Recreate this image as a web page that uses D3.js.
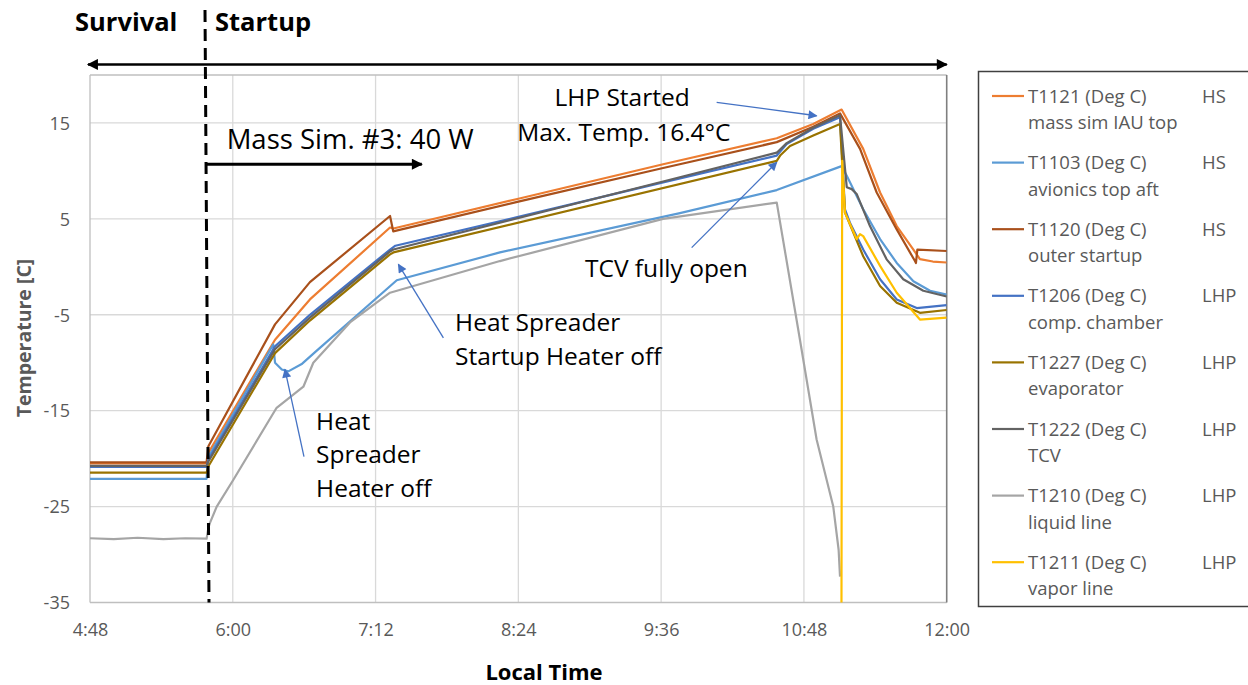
<!DOCTYPE html>
<html><head><meta charset="utf-8">
<script src="https://cdn.jsdelivr.net/npm/d3@7/dist/d3.min.js"></script>
<style>
body{margin:0;background:#fff;}
svg{display:block;font-family:"Open Sans","Noto Sans",sans-serif;}
</style>
</head><body>
<svg id="chart" width="1248" height="685"></svg>
<script>
// ---- data (time = minutes after midnight, temperature in deg C) ----
const xTickValues = [288, 360, 432, 504, 576, 648, 720];
const yTickValues = [-35, -25, -15, -5, 5, 15];
const seriesNames = ["T1121 (Deg C)", "T1103 (Deg C)", "T1120 (Deg C)", "T1206 (Deg C)",
                     "T1227 (Deg C)", "T1222 (Deg C)", "T1210 (Deg C)", "T1211 (Deg C)"];
const seriesDesc = ["mass sim IAU top", "avionics top aft", "outer startup", "comp. chamber",
                    "evaporator", "TCV", "liquid line", "vapor line"];
const seriesGroup = ["HS", "HS", "HS", "LHP", "LHP", "LHP", "LHP", "LHP"];
const seriesColors = ["#ED7D31", "#5B9BD5", "#A9501B", "#4472C4", "#997300", "#636363", "#A5A5A5", "#FFC000"];

const T1121 = [[288,-20.5],[346.8,-20.5],[347.7,-19.4],[381.3,-7.6],[398.9,-3.4],[439.3,4.1],[441,4.0],
  [504,7.1],[577,10.7],[634.3,13.4],[652.7,14.9],[667,16.4],[677.9,12.3],[686.4,7.75],[694.8,4.25],
  [703.2,1.8],[706.5,0.8],[713,0.55],[720,0.45]];
const T1103 = [[288,-22.1],[346.8,-22.1],[347.7,-19.8],[380.4,-8.1],[381.3,-10.0],[384.7,-10.7],[388,-10.9],
  [395,-10.1],[401.5,-8.9],[442.7,-1.4],[494.7,1.5],[585.5,5.6],[634.3,8.0],[667,10.5],[669.6,9.5],
  [677.9,6.0],[686.4,2.9],[694.8,0.4],[703.2,-1.5],[711.6,-2.5],[720,-2.9]];
const T1120 = [[288,-20.4],[346.8,-20.4],[347.7,-18.7],[381.3,-6.0],[398.9,-1.6],[439.3,5.3],[440.9,3.7],
  [504,6.8],[577,10.3],[634.3,13.0],[652.7,14.6],[666.2,16.0],[676.3,12.3],[684.7,7.75],[694.8,3.9],
  [704,0.6],[704.5,0.4],[705.2,1.8],[720,1.65]];
const T1206 = [[288,-20.85],[346.8,-20.85],[347.7,-20.1],[381.3,-8.3],[398.9,-5.0],[439.3,1.8],[442,2.2],
  [504,5.2],[577,8.8],[634.3,11.6],[639.3,12.8],[652.7,14.4],[666.2,15.6],[668.7,6.0],[671.2,4.6],
  [677.9,1.8],[686.4,-1.3],[694.8,-3.4],[704.9,-4.3],[720,-4.0]];
const T1227 = [[288,-21.45],[346.8,-21.45],[347.7,-20.8],[381.3,-9.0],[398.9,-5.6],[439.3,1.3],[441,1.5],
  [634.3,11.05],[636,11.6],[641,12.6],[652.7,13.7],[666.2,14.9],[668.7,5.65],[677.9,1.1],[686.4,-2.0],
  [694.8,-3.75],[706.5,-4.8],[720,-4.5]];
const T1222 = [[288,-20.75],[346.8,-20.75],[347.7,-20.3],[381.3,-8.6],[398.9,-5.3],[439.3,1.6],[441,1.8],
  [577,8.9],[634.3,11.9],[639.3,12.9],[652.7,14.5],[666.2,15.8],[669.6,8.3],[672.1,8.1],[674.6,7.6],
  [681.3,4.25],[689.7,0.78],[698.1,-1.3],[708.2,-2.5],[720,-3.1]];
const T1210 = [[288,-28.3],[300,-28.4],[312,-28.25],[325,-28.4],[336,-28.3],[346.8,-28.35],[347.7,-27.2],
  [348.5,-26.7],[351.9,-25.0],[360.3,-22.2],[382.1,-14.7],[395.6,-12.5],[400.6,-10.0],[419.1,-5.8],
  [439.3,-2.7],[494.7,0.6],[577,5.0],[634.3,6.7],[646,-7.6],[654.4,-18.0],[662.8,-25.0],[665.5,-29.5],
  [666.2,-32.3]];
const T1211 = [[666.9,-40],[667.3,11.05],[668.7,5.65],[674.6,2.9],[676.3,3.4],[677.9,3.2],[686.4,0.1],
  [694.8,-2.7],[706.5,-5.5],[720,-5.3]];
const seriesData = [T1121, T1103, T1120, T1206, T1227, T1222, T1210, T1211];

// event marks (time in minutes, temperature)
const startupTime = 347;
const massSimArrow = [[347, 10.7], [455.3, 10.7]];
const phaseArrow = [[287, 21.1], [720, 21.1]];
const annotations = [
  {lines: ["LHP Started"], at: [556.3, 16.8], anchor: "middle", arrow: [[604.0, 17.15], [654.4, 15.75]]},
  {lines: ["Max. Temp. 16.4°C"], at: [557.2, 13.1], anchor: "middle"},
  {lines: ["TCV fully open"], at: [537.6, -1.1], anchor: "start", arrow: [[591.4, 2.0], [634.3, 10.9]]},
  {lines: ["Heat Spreader", "Startup Heater off"], at: [472.1, -6.7], anchor: "start", arrow: [[466.2, -7.4], [443.5, 0.26]]},
  {lines: ["Heat", "Spreader", "Heater off"], at: [402, -17.0], anchor: "start", arrow: [[395.9, -19.8], [386.3, -10.7]]}
];

// ---- drawing ----
const svg = d3.select("#chart");
const x = d3.scaleLinear().domain([288, 720]).range([90, 946.7]);
const y = d3.scaleLinear().domain([-35, 20]).range([602.5, 75]);
const fmt = m => `${Math.floor(m / 60)}:${String(m % 60).padStart(2, "0")}`;

const defs = svg.append("defs");
defs.append("clipPath").attr("id", "plotclip").append("rect")
  .attr("x", x(288)).attr("y", y(20)).attr("width", x(720) - x(288)).attr("height", y(-35) - y(20));
function marker(id, color, w, h) {
  defs.append("marker").attr("id", id).attr("viewBox", "0 0 10 10").attr("refX", 9).attr("refY", 5)
    .attr("markerWidth", w).attr("markerHeight", h).attr("markerUnits", "userSpaceOnUse")
    .attr("orient", "auto-start-reverse")
    .append("path").attr("d", "M0,0 L10,5 L0,10 Z").attr("fill", color);
}
marker("blk", "#000", 13, 11);
marker("blu", "#4472C4", 11, 9);

// gridlines
svg.append("g").selectAll("line").data(yTickValues.filter(v => v > -35)).join("line")
  .attr("x1", x(288)).attr("x2", x(720)).attr("y1", d => y(d)).attr("y2", d => y(d))
  .attr("stroke", "#d9d9d9").attr("stroke-width", 1.3);
svg.append("g").selectAll("line").data(xTickValues.filter(v => v > 288 && v < 720)).join("line")
  .attr("x1", d => x(d)).attr("x2", d => x(d)).attr("y1", y(20)).attr("y2", y(-35))
  .attr("stroke", "#d9d9d9").attr("stroke-width", 1.3);
// plot border
svg.append("line").attr("x1", x(288)).attr("x2", x(720)).attr("y1", y(20)).attr("y2", y(20)).attr("stroke", "#bfbfbf").attr("stroke-width", 1.3);
svg.append("line").attr("x1", x(288)).attr("x2", x(288)).attr("y1", y(20)).attr("y2", y(-35)).attr("stroke", "#bfbfbf").attr("stroke-width", 1.3);
svg.append("line").attr("x1", x(288)).attr("x2", x(720)).attr("y1", y(-35)).attr("y2", y(-35)).attr("stroke", "#bfbfbf").attr("stroke-width", 1.3);
svg.append("line").attr("x1", x(720)).attr("x2", x(720)).attr("y1", y(20)).attr("y2", y(-35)).attr("stroke", "#7f7f7f").attr("stroke-width", 1.6);

// axes
const yAxis = svg.append("g").attr("transform", `translate(${x(288)},0)`)
  .call(d3.axisLeft(y).tickValues(yTickValues).tickFormat(v => String(v)).tickSize(0).tickPadding(20));
const xAxis = svg.append("g").attr("transform", `translate(0,${y(-35)})`)
  .call(d3.axisBottom(x).tickValues(xTickValues).tickFormat(fmt).tickSize(0).tickPadding(21));
[yAxis, xAxis].forEach(g => {
  g.select(".domain").remove();
  g.selectAll("text").attr("fill", "#595959").style("font-size", "18px").style("font-family", "'Open Sans', sans-serif");
});
yAxis.selectAll("text").attr("dy", "0.35em");

svg.append("text").attr("transform", `translate(31,338) rotate(-90)`)
  .attr("text-anchor", "middle").attr("fill", "#595959").style("font-size", "19.5px").style("font-weight", "bold")
  .text("Temperature [C]");
svg.append("text").attr("x", 544).attr("y", 679.5).attr("text-anchor", "middle")
  .attr("fill", "#000").style("font-size", "22px").style("font-weight", "bold").text("Local Time");

// series
const line = d3.line().x(d => x(d[0])).y(d => y(d[1]));
svg.append("g").attr("clip-path", "url(#plotclip)").selectAll("path").data(seriesData).join("path")
  .attr("d", line).attr("fill", "none").attr("stroke", (d, i) => seriesColors[i])
  .attr("stroke-width", 2.2).attr("stroke-linejoin", "round");

// startup dashed line
svg.append("line").attr("x1", x(startupTime) - 2).attr("x2", x(startupTime) + 2)
  .attr("y1", 10).attr("y2", y(-35)).attr("stroke", "#000").attr("stroke-width", 3).attr("stroke-dasharray", "12,7");

// phase arrow and labels
svg.append("line").attr("x1", x(phaseArrow[0][0])).attr("x2", x(phaseArrow[1][0]))
  .attr("y1", y(phaseArrow[0][1])).attr("y2", y(phaseArrow[1][1]))
  .attr("stroke", "#000").attr("stroke-width", 2.5)
  .attr("marker-start", "url(#blk)").attr("marker-end", "url(#blk)");
svg.append("text").attr("x", 75).attr("y", 31).style("font-size", "25.5px").style("font-weight", "bold").text("Survival");
svg.append("text").attr("x", 215).attr("y", 31).style("font-size", "25.5px").style("font-weight", "bold").text("Startup");

// mass sim arrow
svg.append("line").attr("x1", x(massSimArrow[0][0])).attr("x2", x(massSimArrow[1][0]))
  .attr("y1", y(massSimArrow[0][1])).attr("y2", y(massSimArrow[1][1]))
  .attr("stroke", "#000").attr("stroke-width", 3).attr("marker-end", "url(#blk)");
svg.append("text").attr("x", x(356.9)).attr("y", y(12.3)).style("font-size", "27.5px").text("Mass Sim. #3: 40 W");

// annotations
annotations.forEach(a => {
  const t = svg.append("text").attr("x", x(a.at[0])).attr("y", y(a.at[1]))
    .attr("text-anchor", a.anchor).style("font-size", "24.5px").attr("fill", "#000");
  a.lines.forEach((s, i) => t.append("tspan").attr("x", x(a.at[0])).attr("dy", i === 0 ? 0 : 33.5).text(s));
  if (a.arrow) {
    svg.append("line").attr("x1", x(a.arrow[0][0])).attr("y1", y(a.arrow[0][1]))
      .attr("x2", x(a.arrow[1][0])).attr("y2", y(a.arrow[1][1]))
      .attr("stroke", "#4472C4").attr("stroke-width", 1.3).attr("marker-end", "url(#blu)");
  }
});

// legend
const lg = svg.append("g");
lg.append("rect").attr("x", 978.5).attr("y", 71.5).attr("width", 290).attr("height", 535)
  .attr("fill", "#fff").attr("stroke", "#404040").attr("stroke-width", 1.5);
seriesNames.forEach((n, i) => {
  const cy = 96 + i * 66.6;
  lg.append("line").attr("x1", 992).attr("x2", 1024).attr("y1", cy).attr("y2", cy)
    .attr("stroke", seriesColors[i]).attr("stroke-width", 2.2);
  lg.append("text").attr("x", 1028).attr("y", cy + 6.5).attr("fill", "#595959").style("font-size", "18.5px").text(n);
  lg.append("text").attr("x", 1028).attr("y", cy + 33).attr("fill", "#595959").style("font-size", "18.5px").text(seriesDesc[i]);
  lg.append("text").attr("x", 1202).attr("y", cy + 6.5).attr("fill", "#595959").style("font-size", "18.5px").text(seriesGroup[i]);
});
</script>
</body></html>
